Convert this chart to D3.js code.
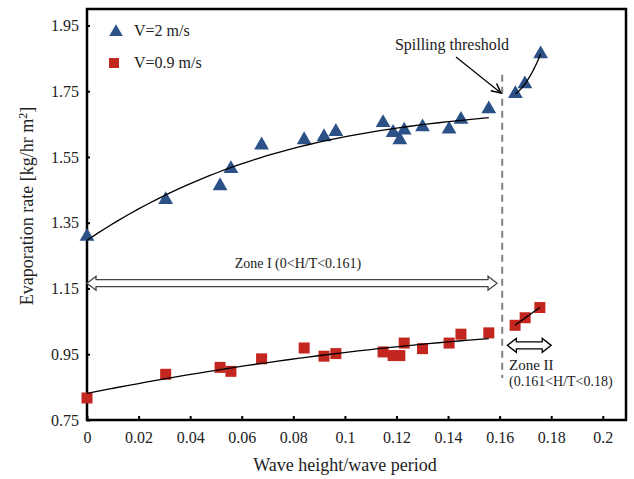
<!DOCTYPE html>
<html>
<head>
<meta charset="utf-8">
<script src="https://cdn.jsdelivr.net/npm/d3@7"></script>
<style>
  body { margin: 0; background: #fff; }
  text { font-family: "Liberation Serif", "Times New Roman", serif; fill: #222; }
</style>
</head>
<body>
<div id="chart"></div>
<script>
// wave height / wave period
var xFast = [0, 0.0305, 0.0516, 0.0558, 0.0677, 0.0842, 0.0919, 0.0965, 0.1148, 0.1187, 0.1213, 0.1230, 0.1301, 0.1404, 0.1450, 0.1558, 0.1661, 0.1698, 0.1759];
var yFast = [1.308, 1.420, 1.462, 1.514, 1.586, 1.602, 1.611, 1.627, 1.654, 1.624, 1.602, 1.631, 1.641, 1.634, 1.664, 1.696, 1.742, 1.772, 1.863];
var xSlow = [0, 0.0305, 0.0516, 0.0558, 0.0677, 0.0842, 0.0919, 0.0965, 0.1148, 0.1187, 0.1213, 0.1230, 0.1301, 0.1404, 0.1450, 0.1558, 0.1660, 0.1699, 0.1756];
var ySlow = [0.817, 0.889, 0.910, 0.898, 0.936, 0.969, 0.944, 0.952, 0.957, 0.946, 0.946, 0.984, 0.967, 0.984, 1.011, 1.015, 1.038, 1.061, 1.092];
var xTicks = [0, 0.02, 0.04, 0.06, 0.08, 0.1, 0.12, 0.14, 0.16, 0.18, 0.2];
var yTicks = [0.75, 0.95, 1.15, 1.35, 1.55, 1.75, 1.95];
var threshold = 0.161;
var zoneOne = [0, 0.159];
var zoneTwo = [0.163, 0.18];

var W = 634, H = 479;
var m = {left: 87, right: 8, top: 9, bottom: 59};
var svg = d3.select("#chart").append("svg").attr("width", W).attr("height", H);

var x = d3.scaleLinear().domain([0, 0.209]).range([m.left, W - m.right]);
var y = d3.scaleLinear().domain([0.75, 2.0]).range([H - m.bottom, m.top]);

// least squares polynomial fit
function polyfit(xs, ys, deg) {
    var n = deg + 1, A = [], b = [];
    for (var i = 0; i < n; i++) {
        A.push([]); b.push(0);
        for (var j = 0; j < n; j++) A[i].push(d3.sum(xs, function(v){ return Math.pow(v, i + j); }));
        xs.forEach(function(v, k){ b[i] += ys[k] * Math.pow(v, i); });
    }
    for (var c = 0; c < n; c++) {
        for (var r = c + 1; r < n; r++) {
            var f = A[r][c] / A[c][c];
            for (var k = c; k < n; k++) A[r][k] -= f * A[c][k];
            b[r] -= f * b[c];
        }
    }
    var coef = new Array(n);
    for (var r2 = n - 1; r2 >= 0; r2--) {
        var s = b[r2];
        for (var k2 = r2 + 1; k2 < n; k2++) s -= A[r2][k2] * coef[k2];
        coef[r2] = s / A[r2][r2];
    }
    return function(v){ return coef.reduce(function(acc, c, i){ return acc + c * Math.pow(v, i); }, 0); };
}

function trend(xs, ys, lo, hi, deg) {
    var px = [], py = [];
    xs.forEach(function(v, i){ if (v >= lo && v <= hi) { px.push(v); py.push(ys[i]); } });
    var f = polyfit(px, py, deg);
    var a = d3.min(px), b = d3.max(px);
    var pts = d3.range(0, 41).map(function(i){ var v = a + (b - a) * i / 40; return [x(v), y(f(v))]; });
    svg.append("path").attr("d", d3.line()(pts)).attr("fill", "none").attr("stroke", "#000").attr("stroke-width", 1.3);
}

// axes with inward ticks
var xAxis = svg.append("g").attr("transform", "translate(0," + y(0.75) + ")")
    .call(d3.axisBottom(x).tickValues(xTicks).tickSize(-4).tickFormat(d3.format("~g")));
xAxis.selectAll("text").attr("y", 12).style("font-size", "16px").style("font-family", "Liberation Serif");
var yAxis = svg.append("g").attr("transform", "translate(" + x(0) + ",0)")
    .call(d3.axisLeft(y).tickValues(yTicks).tickSize(-3).tickFormat(d3.format(".2f")));
yAxis.selectAll("text").attr("x", -8).style("font-size", "16px").style("font-family", "Liberation Serif");
svg.selectAll(".domain").remove();
svg.selectAll(".tick line").attr("stroke", "#000").attr("stroke-width", 2);

svg.append("rect").attr("x", x(0)).attr("y", y(2.0)).attr("width", x(0.209) - x(0)).attr("height", y(0.75) - y(2.0))
    .attr("fill", "none").attr("stroke", "#000").attr("stroke-width", 2.5);

// threshold line
svg.append("line").attr("x1", x(threshold)).attr("x2", x(threshold)).attr("y1", y(1.80)).attr("y2", y(0.878))
    .attr("stroke", "#808080").attr("stroke-width", 2).attr("stroke-dasharray", "7,5");

// markers
var blue = "#2b5187", red = "#c3261f";
svg.selectAll(".tri").data(xFast).enter().append("path")
    .attr("d", d3.symbol().type(d3.symbolTriangle).size(95))
    .attr("transform", function(d, i){ return "translate(" + x(d) + "," + y(yFast[i]) + ")"; })
    .attr("fill", blue);
svg.selectAll(".sq").data(xSlow).enter().append("rect")
    .attr("x", function(d){ return x(d) - 5.5; }).attr("y", function(d, i){ return y(ySlow[i]) - 5.5; })
    .attr("width", 11).attr("height", 11).attr("fill", red);

// trend lines on top of the markers
trend(xFast, yFast, 0, threshold, 3);
trend(xSlow, ySlow, 0, threshold, 2);
trend(xFast, yFast, threshold, 1, 2);
trend(xSlow, ySlow, threshold, 1, 1);

// hollow double arrows
function doubleArrow(v0, v1, yv, color) {
    var a = x(v0), b = x(v1), c = y(yv), h = 3.5, hh = 7, hl = 9;
    var p = [[a, c], [a + hl, c - hh], [a + hl, c - h], [b - hl, c - h], [b - hl, c - hh], [b, c],
             [b - hl, c + hh], [b - hl, c + h], [a + hl, c + h], [a + hl, c + hh]];
    svg.append("path").attr("d", d3.line()(p) + "Z").attr("fill", "#fff").attr("stroke", color).attr("stroke-width", 1.3);
}
doubleArrow(zoneOne[0], zoneOne[1], 1.166, "#444");
doubleArrow(zoneTwo[0], zoneTwo[1], 0.977, "#000");

svg.append("text").attr("x", 298).attr("y", 268).attr("text-anchor", "middle")
    .style("font-size", "14px").text("Zone I (0<H/T<0.161)");
svg.append("text").attr("x", 509).attr("y", 370).style("font-size", "15px").text("Zone II");
svg.append("text").attr("x", 509).attr("y", 386).style("font-size", "14px").text("(0.161<H/T<0.18)");

// spilling threshold annotation
svg.append("defs").append("marker").attr("id", "arr").attr("viewBox", "0 0 10 10").attr("refX", 9).attr("refY", 5)
    .attr("markerWidth", 9).attr("markerHeight", 9).attr("orient", "auto")
    .append("path").attr("d", "M1,1L9,5L1,9").attr("fill", "none").attr("stroke", "#000").attr("stroke-width", 1.3);
svg.append("text").attr("x", 452).attr("y", 50).attr("text-anchor", "middle").style("font-size", "16px").text("Spilling threshold");
svg.append("line").attr("x1", 456).attr("y1", 57).attr("x2", 501).attr("y2", 93)
    .attr("stroke", "#000").attr("stroke-width", 1.3).attr("marker-end", "url(#arr)");

// legend
svg.append("path").attr("d", d3.symbol().type(d3.symbolTriangle).size(80)).attr("transform", "translate(116,32)").attr("fill", blue);
svg.append("text").attr("x", 134).attr("y", 36).style("font-size", "16px").text("V=2 m/s");
svg.append("rect").attr("x", 109).attr("y", 58).attr("width", 10).attr("height", 10).attr("fill", red);
svg.append("text").attr("x", 134).attr("y", 68).style("font-size", "16px").text("V=0.9 m/s");

// axis titles
svg.append("text").attr("x", 345).attr("y", 471).attr("text-anchor", "middle").style("font-size", "18px").text("Wave height/wave period");
var yt = svg.append("text").attr("transform", "translate(33,206) rotate(-90)").attr("text-anchor", "middle").style("font-size", "18px");
yt.append("tspan").text("Evaporation rate [kg/hr m");
yt.append("tspan").attr("dy", -6).style("font-size", "12px").text("2");
yt.append("tspan").attr("dy", 6).text("]");
</script>
</body>
</html>
